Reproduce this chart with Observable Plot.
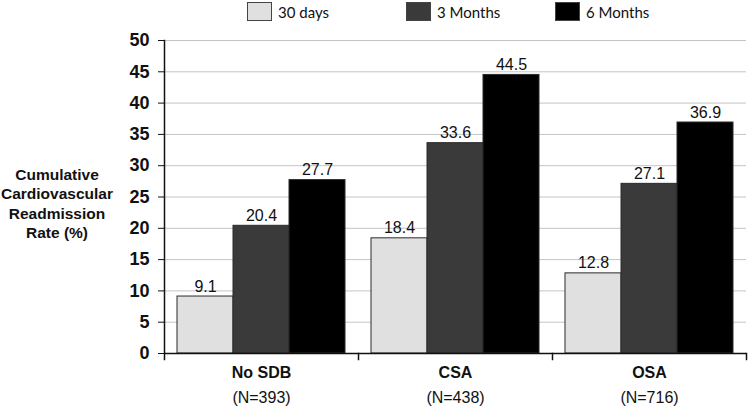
<!DOCTYPE html>
<html>
<head>
<meta charset="utf-8">
<script src="https://cdn.jsdelivr.net/npm/d3@7"></script>
<script src="https://cdn.jsdelivr.net/npm/@observablehq/plot@0.6"></script>
<style>
  body { margin: 0; background: #fff; }
  #wrap { position: relative; width: 749px; }
  #legend { position: relative; width: 749px; height: 26px; font-family: Lato, "Open Sans", sans-serif; font-size: 15px; color: #111; }
  .item { position: absolute; top: 2px; display: flex; align-items: center; height: 19px; }
  .sw { width: 25px; height: 19px; box-sizing: border-box; border: 1.5px solid #444; margin-right: 6px; }
  #chart svg { display: block; }
  #ylabel { position: absolute; left: 0; top: 165px; width: 114px; text-align: center; font-family: 'Liberation Sans', Arial, sans-serif; font-weight: bold; font-size: 15.5px; line-height: 19.3px; color: #111; }
</style>
</head>
<body>
<div id="wrap">
<div id="legend"></div>
<div id="chart"></div>
<div id="ylabel"></div>
</div>
<script>
// Data
const groups = ["No SDB", "CSA", "OSA"];
const groupN = ["(N=393)", "(N=438)", "(N=716)"];
const series = ["30 days", "3 Months", "6 Months"];
const values30days = [9.1, 18.4, 12.8];
const values3Months = [20.4, 33.6, 27.1];
const values6Months = [27.7, 44.5, 36.9];
const yTicks = [0, 5, 10, 15, 20, 25, 30, 35, 40, 45, 50];
const yLabelLines = ["Cumulative", "Cardiovascular", "Readmission", "Rate (%)"];
const colors = ["#e0e0e0", "#3a3a3a", "#000000"];

const seriesValues = [values30days, values3Months, values6Months];
const rows = [];
groups.forEach((g, i) => series.forEach((s, j) => rows.push({group: g, series: s, value: seriesValues[j][i]})));

// Legend (HTML, above the SVG)
const legendLeft = [247, 406, 555];
const legend = document.getElementById("legend");
series.forEach((s, j) => {
  const item = document.createElement("div");
  item.className = "item";
  item.style.left = legendLeft[j] + "px";
  const sw = document.createElement("div");
  sw.className = "sw";
  sw.style.background = colors[j];
  const lab = document.createElement("span");
  lab.textContent = s;
  item.append(sw, lab);
  legend.append(item);
});

// Y axis title
const yl = document.getElementById("ylabel");
yLabelLines.forEach((t, i) => {
  if (i) yl.append(document.createElement("br"));
  yl.append(document.createTextNode(t));
});

const font = "'Liberation Sans', Arial, sans-serif";
const chart = Plot.plot({
  width: 749,
  height: 380,
  marginLeft: 163,
  marginRight: 3,
  marginTop: 14,
  marginBottom: 53,
  style: {fontFamily: font, background: "#fff", color: "#111"},
  fx: {domain: groups, padding: 0, axis: null, label: null},
  x: {domain: series, paddingInner: 0, paddingOuter: 0.22, axis: null},
  y: {domain: [0, 50], axis: null},
  color: {domain: series, range: colors},
  marks: [
    Plot.gridY(yTicks.filter(t => t > 0), {stroke: "#c4c4c4", strokeOpacity: 1, strokeWidth: 1}),
    Plot.barY(rows, {fx: "group", x: "series", y: "value", fill: "series", stroke: "#2a2a2a", strokeWidth: 1}),
    Plot.text(rows, {fx: "group", x: "series", y: "value", text: d => d.value.toFixed(1), lineAnchor: "bottom", dy: -5, fontSize: 16, fill: "#111"}),
    Plot.ruleY([0], {stroke: "#111", strokeWidth: 1.5}),
    Plot.frame({anchor: "left", fx: [groups[0]], insetBottom: -6, stroke: "#111", strokeWidth: 1.5}),
    Plot.frame({anchor: "right", insetTop: 313, insetBottom: -6, stroke: "#111", strokeWidth: 1.5}),
    Plot.axisY(yTicks, {tickSize: 6, tickPadding: 9, fontSize: 18, fontWeight: "bold", stroke: "#111", fill: "#111", label: null}),
    Plot.axisFx({anchor: "bottom", tickSize: 0, tickPadding: 13, fontSize: 16, fontWeight: "bold", fill: "#111", label: null}),
    Plot.axisFx({anchor: "bottom", tickSize: 0, tickPadding: 38, fontSize: 16, fill: "#111", label: null, tickFormat: g => groupN[groups.indexOf(g)]})
  ]
});
document.getElementById("chart").append(chart);
</script>
</body>
</html>
